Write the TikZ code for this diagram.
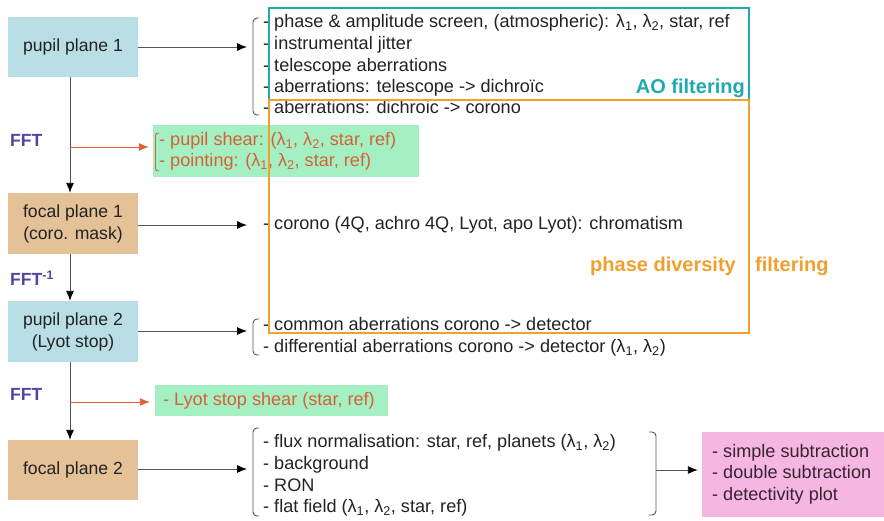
\documentclass[tikz,border=0pt]{standalone}
\usepackage{fontspec}
\setmainfont{Liberation Sans}
\usetikzlibrary{arrows.meta}
\definecolor{boxblue}{RGB}{186,222,230}
\definecolor{boxtan}{RGB}{228,193,150}
\definecolor{boxgreen}{RGB}{165,240,195}
\definecolor{boxpink}{RGB}{246,182,226}
\definecolor{tealc}{RGB}{32,170,176}
\definecolor{orangec}{RGB}{240,160,45}
\definecolor{fftblue}{RGB}{80,72,160}
\definecolor{redc}{RGB}{228,92,52}
\definecolor{greentext}{RGB}{214,96,56}
\definecolor{linegray}{RGB}{85,85,85}
\definecolor{txt}{RGB}{35,35,35}
\definecolor{pinktxt}{RGB}{55,35,50}
\newcommand\fs{\fontsize{17.6}{22}\selectfont}
\newcommand\fl{\fontsize{18.1}{22}\selectfont}
\newcommand\fb{\fontsize{20}{24}\selectfont\bfseries}
\newcommand\mylam[1]{λ\textsubscript{#1}}
\begin{document}
\begin{tikzpicture}[x=1pt,y=-1pt,
  planebox/.style={minimum width=130pt, inner sep=0pt, align=center, font=\fs, text=txt},
  listitem/.style={anchor=west, inner sep=0pt, text height=12.8pt, text depth=3.7pt, font=\fl, text=txt},
  fftlabel/.style={anchor=west, inner sep=0pt, font=\fontsize{17.6}{22}\selectfont\bfseries, text=fftblue},
  arr/.style={draw=linegray, line width=0.9pt, -{Latex[length=10pt,width=8pt,color=black]}},
  redarr/.style={draw=redc, line width=0.9pt, -{Latex[length=10pt,width=8pt]}},
  brk/.style={draw=linegray, line width=0.9pt, rounded corners=4pt},
  flatbox/.style={inner sep=0pt, draw=none}
]
\useasboundingbox (0,0) rectangle (884,520);
\fill[white] (0,0) rectangle (884,520);

% left column boxes
\node[planebox, fill=boxblue, minimum height=60pt] (pp1) at (73,47) {pupil plane 1};
\node[planebox, fill=boxtan, minimum height=61pt] (fp1) at (73,223.5) {focal plane 1\\(coro. mask)};
\node[planebox, fill=boxblue, minimum height=61pt] (pp2) at (73,331.5) {pupil plane 2\\(Lyot stop)};
\node[planebox, fill=boxtan, minimum height=60pt] (fp2) at (73,470) {focal plane 2};

% FFT labels
\node[fftlabel] (fft1) at (10,140) {FFT};
\node[fftlabel] (fft2) at (10,278) {FFT\textsuperscript{-1}};
\node[fftlabel] (fft3) at (10,394) {FFT};

% vertical arrows
\draw[arr] ([xshift=-3pt]pp1.south) -- ([xshift=-3pt]fp1.north);
\draw[arr] ([xshift=-3pt]fp1.south) -- ([xshift=-3pt]pp2.north);
\draw[arr] ([xshift=-3pt]pp2.south) -- ([xshift=-3pt]fp2.north);

% green boxes
\node[flatbox, fill=boxgreen, minimum width=266pt, minimum height=52pt] (g1) at (286,151) {};
\node[flatbox, fill=boxgreen, minimum width=233pt, minimum height=31pt] (g2) at (271.5,400.5) {};

% red arrows
\coordinate (r1) at (70,147);
\coordinate (r2) at (70,402);
\draw[redarr, shorten >=4pt] (r1) -- (r1 -| g1.west);
\draw[redarr, shorten >=5pt] (r2) -- (r2 -| g2.west);

% green box content
\draw[brk, draw=greentext, rounded corners=2.5pt] (159,133) -- (155.5,133) -- (155.5,171) -- (159,171);
\node[listitem, text=greentext] (gs1) at (159,141) {- pupil shear: (\mylam{1}, \mylam{2}, star, ref)};
\node[listitem, text=greentext] (gs2) at (159,162) {- pointing: (\mylam{1}, \mylam{2}, star, ref)};
\node[listitem, text=greentext] (gs3) at (163,401) {- Lyot stop shear (star, ref)};

% horizontal arrows to lists
\coordinate (a1) at (247,47);
\coordinate (a2) at (247,225);
\coordinate (a3) at (247,331);
\coordinate (a4) at (247,469);
\draw[arr] (pp1.east |- a1) -- (a1);
\draw[arr] (fp1.east |- a2) -- (a2);
\draw[arr] (pp2.east |- a3) -- (a3);
\draw[arr] (fp2.east |- a4) -- (a4);

% brackets
\draw[brk] (259,18) -- (253,18) -- (253,115) -- (259,115);
\draw[brk] (259,319) -- (253,319) -- (253,355) -- (259,355);
\draw[brk] (259,428) -- (253,428) -- (253,516) -- (259,516);
\draw[brk] (649,432) -- (656,432) -- (656,515) -- (649,515);

% lists
\node[listitem] (l11) at (263,23) {- phase \& amplitude screen, (atmospheric): \mylam{1}, \mylam{2}, star, ref};
\node[listitem] (l12) at (263,45) {- instrumental jitter};
\node[listitem] (l13) at (263,67) {- telescope aberrations};
\node[listitem] (l14) at (263,88) {- aberrations: telescope -> dichroïc};
\node[listitem] (l15) at (263,109) {- aberrations: dichroic -> corono};
\node[listitem] (l21) at (263,225) {- corono (4Q, achro 4Q, Lyot, apo Lyot): chromatism};
\node[listitem] (l31) at (263,326) {- common aberrations corono -> detector};
\node[listitem] (l32) at (263,348) {- differential aberrations corono -> detector (\mylam{1}, \mylam{2})};
\node[listitem] (l41) at (263,443) {- flux normalisation: star, ref, planets (\mylam{1}, \mylam{2})};
\node[listitem] (l42) at (263,465) {- background};
\node[listitem] (l43) at (263,487) {- RON};
\node[listitem] (l44) at (263,508) {- flat field (\mylam{1}, \mylam{2}, star, ref)};

% filtering frames
\draw[tealc, line width=1.6pt] (269,8) rectangle (749,100);
\draw[orangec, line width=1.6pt] (269,100) rectangle (749,333);
\node[anchor=east, inner sep=0pt, font=\fb, text=tealc] (ao) at (745,88) {AO filtering};
\node[anchor=west, inner sep=0pt, font=\fb, text=orangec] (pd) at (590,266) {phase diversity};
\node[anchor=west, inner sep=0pt, font=\fb, text=orangec] (pdf) at (755,266) {filtering};

% pink result box
\node[flatbox, fill=boxpink, minimum width=182pt, minimum height=85pt] (pk) at (793,474.5) {};
\node[listitem, text=pinktxt] (p1) at (712,453) {- simple subtraction};
\node[listitem, text=pinktxt] (p2) at (712,474) {- double subtraction};
\node[listitem, text=pinktxt] (p3) at (712,496) {- detectivity plot};
\coordinate (bx) at (656,470);
\draw[arr, shorten >=4pt] (bx) -- (bx -| pk.west);
\end{tikzpicture}
\end{document}
